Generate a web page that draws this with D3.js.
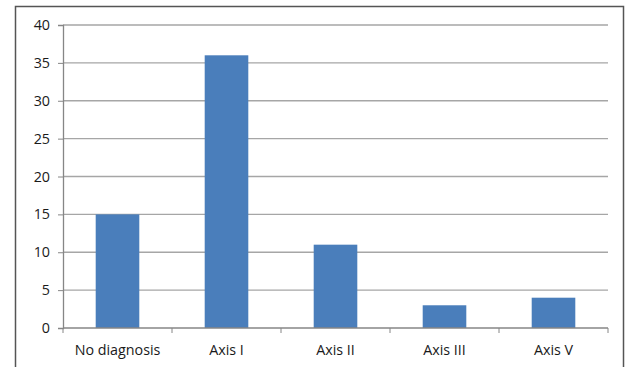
<!DOCTYPE html>
<html>
<head>
<meta charset="utf-8">
<script src="https://cdn.jsdelivr.net/npm/d3@7"></script>
<style>
  html, body { margin: 0; padding: 0; background: #fff; }
  svg { display: block; }
  text { font-family: "Open Sans", "Liberation Sans", sans-serif; fill: #1a1a1a; }
</style>
</head>
<body>
<svg id="chart" width="627" height="367"></svg>
<script>
const categories = ["No diagnosis", "Axis I", "Axis II", "Axis III", "Axis V"];
const values = [15, 36, 11, 3, 4];
const yTicks = [0, 5, 10, 15, 20, 25, 30, 35, 40];

const svg = d3.select("#chart");
const plot = { left: 63, right: 608, top: 25, bottom: 328 };
const labelSize = "14.3px";

// chart frame
svg.append("rect")
  .attr("x", 15.5).attr("y", 6.5)
  .attr("width", 608).attr("height", 400)
  .attr("fill", "none").attr("stroke", "#555").attr("stroke-width", 1.5);

const x = d3.scaleBand().domain(categories)
  .range([plot.left, plot.right]).paddingInner(0.6).paddingOuter(0.3);
const xb = d3.scaleBand().domain(categories).range([plot.left, plot.right]);
const y = d3.scaleLinear().domain([0, 40]).range([plot.bottom, plot.top]);

// horizontal gridlines
svg.append("g").selectAll("line").data(yTicks.filter(d => d > 0)).join("line")
  .attr("x1", plot.left).attr("x2", plot.right)
  .attr("y1", d => y(d)).attr("y2", d => y(d))
  .attr("stroke", "#a6a6a6").attr("stroke-width", 1.3);

// bars
svg.append("g").selectAll("rect").data(values).join("rect")
  .attr("x", (d, i) => x(categories[i]))
  .attr("width", x.bandwidth())
  .attr("y", d => y(d))
  .attr("height", d => y(0) - y(d))
  .attr("fill", "#4a7ebb");

// y axis
const yAxis = d3.axisLeft(y).tickValues(yTicks).tickSize(5).tickPadding(8);
const gy = svg.append("g").attr("transform", `translate(${plot.left},0)`).call(yAxis);
gy.select(".domain").attr("stroke", "#868686").attr("stroke-width", 1.3);
gy.selectAll(".tick line").attr("stroke", "#868686");
gy.selectAll(".tick text").style("font-size", labelSize)
  .style("font-family", "'Open Sans', sans-serif").attr("fill", "#1a1a1a");

// x axis with ticks on band boundaries
const gx = svg.append("g");
gx.append("line")
  .attr("x1", plot.left).attr("x2", plot.right)
  .attr("y1", plot.bottom).attr("y2", plot.bottom)
  .attr("stroke", "#868686").attr("stroke-width", 1.3);
const boundaries = categories.map(c => xb(c)).concat([plot.right]);
gx.selectAll("line.tk").data(boundaries).join("line").attr("class", "tk")
  .attr("x1", d => d).attr("x2", d => d)
  .attr("y1", plot.bottom).attr("y2", plot.bottom + 5)
  .attr("stroke", "#868686");
gx.selectAll("text").data(categories).join("text")
  .attr("x", d => xb(d) + xb.bandwidth() / 2)
  .attr("y", plot.bottom + 27)
  .attr("text-anchor", "middle")
  .style("font-size", labelSize)
  .text(d => d);
</script>
</body>
</html>
